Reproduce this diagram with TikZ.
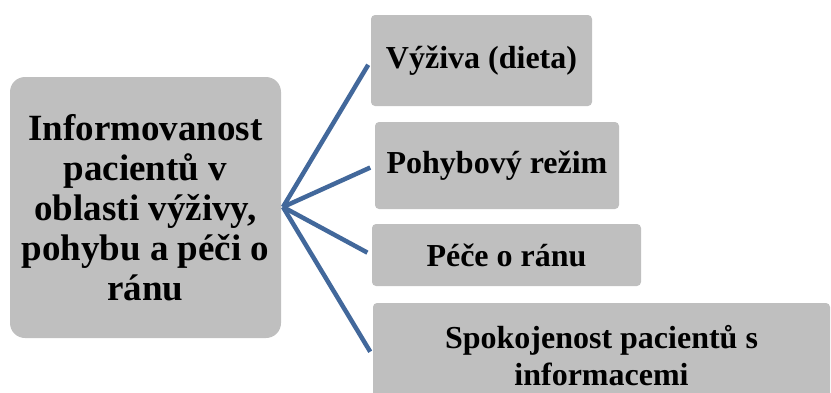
\documentclass[tikz,border=0pt]{standalone}
\usepackage{fontspec}
\setmainfont{Liberation Serif}
\usepackage{tikz}

\definecolor{boxgray}{RGB}{191,191,191}
\definecolor{linkblue}{RGB}{66,104,155}

\tikzset{
    box/.style={rectangle,fill=boxgray,inner sep=0,align=center,font=\itemfontsize\bfseries},
    link/.style={draw=linkblue,line width=4.5pt,shorten >=5pt}
}

\begin{document}
\begin{tikzpicture}[x=1pt,y=-1pt]
    \pgfmathsetmacro{\mainroundingradius}{15}
    \pgfmathsetmacro{\itemroundingradius}{4}
    \providecommand{\mainfontsize}{\fontsize{37pt}{40pt}\selectfont}
    \providecommand{\itemfontsize}{\fontsize{32pt}{37pt}\selectfont}
    \useasboundingbox (0,0) rectangle (831,392);
    \clip (0,0) rectangle (831,392);
    \node[box,font=\mainfontsize\bfseries,rounded corners=\mainroundingradius,minimum width=271,minimum height=261] (main) at (145.5,207.5)
    {Informovanost\\pacientů v\\oblasti výživy,\\pohybu a péči o\\ránu};
    \node[box,rounded corners=\itemroundingradius,minimum width=221,minimum height=91] (vyziva) at (481.5,60.5) {Výživa (dieta)};
    \node[box,rounded corners=\itemroundingradius,minimum width=244,minimum height=87] (pohyb) at (497,165.5) {Pohybový režim};
    \node[box,rounded corners=\itemroundingradius,minimum width=269,minimum height=62] (rana) at (506.5,255) {Péče o ránu};
    \node[box,rounded corners=\itemroundingradius,minimum width=457,minimum height=106] (spokojenost) at (601.5,356) {Spokojenost pacientů s\\informacemi};
    \coordinate (hub) at (283,207);
    \draw[link] (hub) -- (vyziva.west);
    \draw[link] (hub) -- (pohyb.west);
    \draw[link] (hub) -- (rana.west);
    \draw[link] (hub) -- (spokojenost.west);
\end{tikzpicture}
\end{document}
